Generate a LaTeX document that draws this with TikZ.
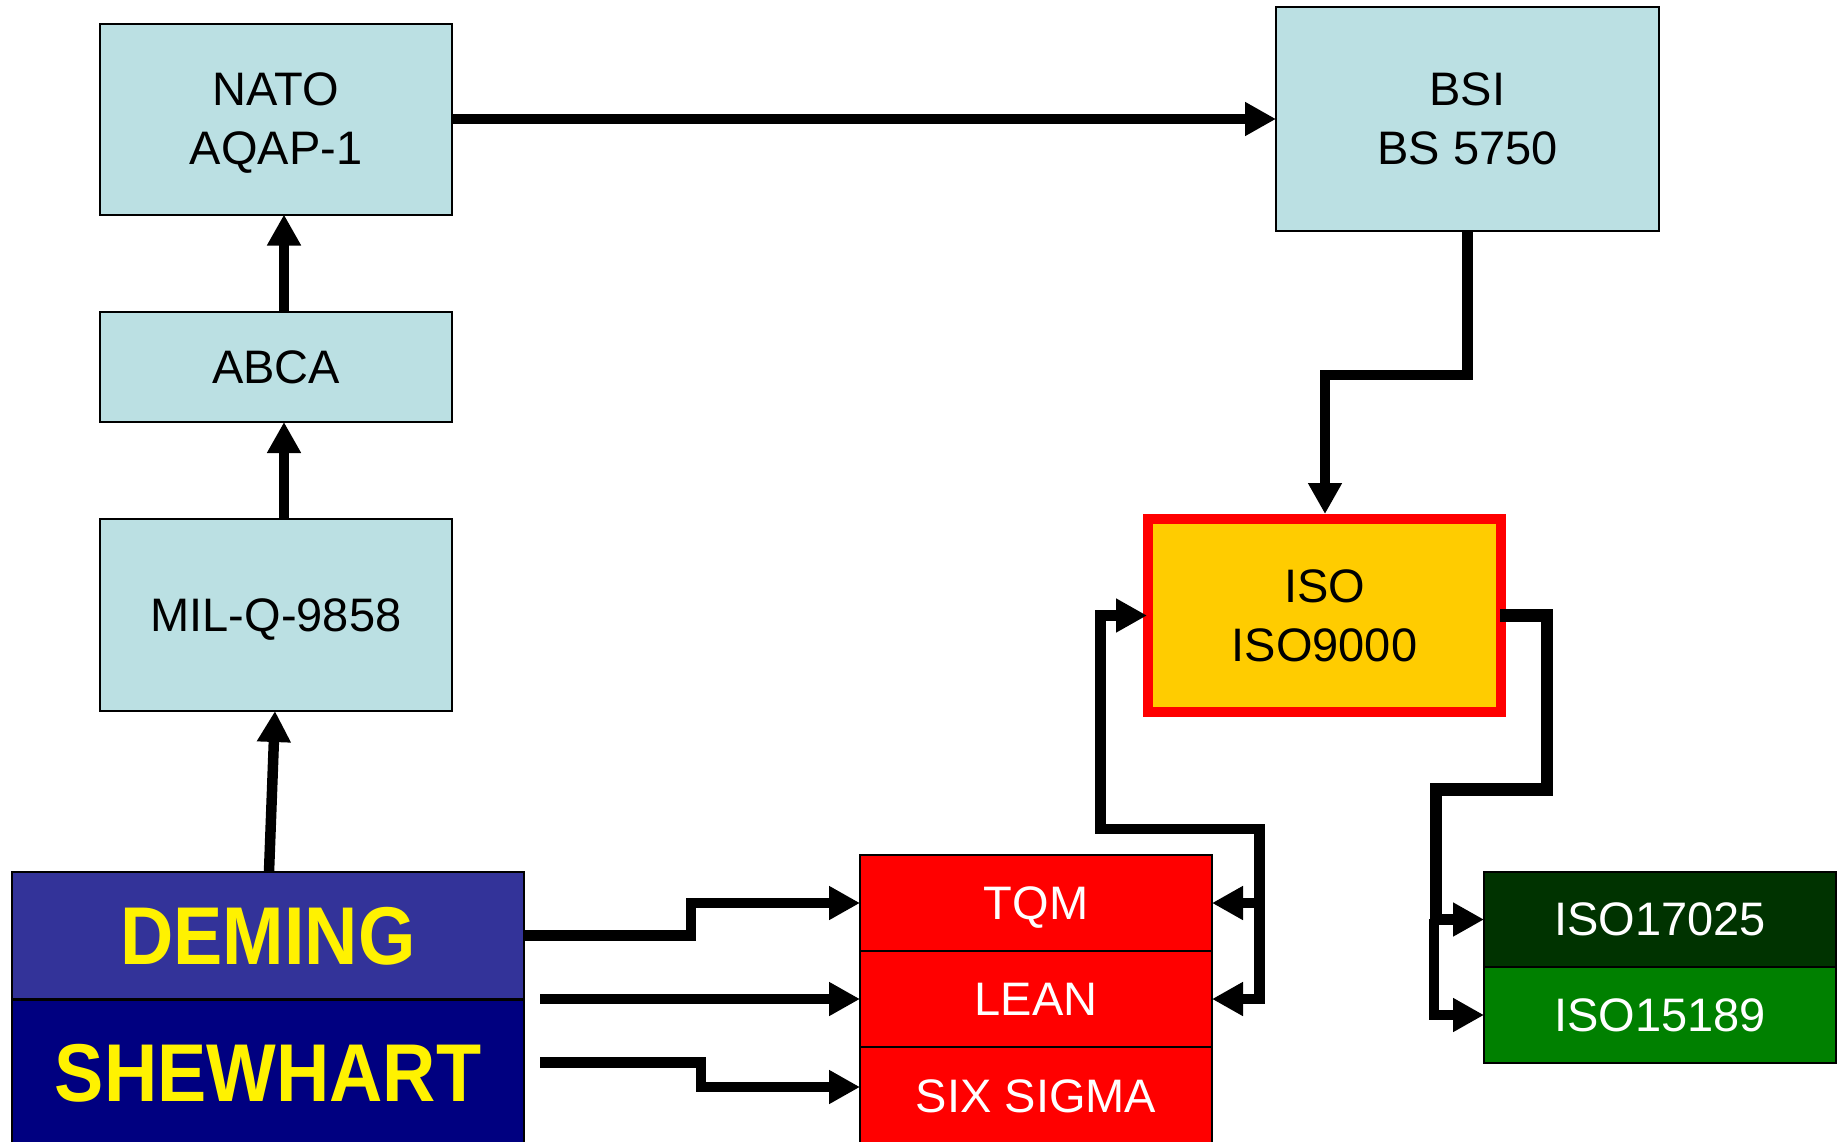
\documentclass[tikz,border=0pt]{standalone}
\usepackage{fontspec}
\setmainfont{Liberation Sans}
\newfontfamily\narrowfont{Liberation Sans}[FakeStretch=0.9]
\usetikzlibrary{arrows.meta}
\definecolor{boxblue}{HTML}{BBE0E3}
\definecolor{demingblue}{HTML}{333399}
\definecolor{navyblue}{HTML}{000080}
\definecolor{isoyellow}{HTML}{FFCC00}
\definecolor{darkgreen}{HTML}{003300}
\definecolor{midgreen}{HTML}{008000}
\tikzset{
  base/.style={draw=black, line width=2pt, inner sep=0pt, outer sep=0pt, align=center, text depth=0pt, font=\fontsize{47}{59}\selectfont},
  bluebox/.style={base, fill=boxblue, text=black, minimum width=352pt},
  bigname/.style={base, text=yellow, minimum width=512pt, font=\narrowfont\bfseries\fontsize{82}{90}\selectfont},
  redbox/.style={base, fill=red, text=white, minimum width=352pt},
  greenbox/.style={base, text=white, minimum width=352pt},
  conn/.style={line width=10.5pt},
  arr/.style={conn, -{Triangle[length=31pt,width=32pt]}},
  biarr/.style={conn, {Triangle[length=31pt,width=32pt]}-{Triangle[length=31pt,width=32pt]}},
}
\begin{document}
\begin{tikzpicture}[x=1pt,y=-1pt]
\useasboundingbox (0,0) rectangle (1845,1141);
% boxes
\node[bluebox, minimum height=191pt] (nato) at (276,119) {NATO\\AQAP-1};
\node[bluebox, minimum width=383pt, minimum height=224pt] (bsi) at (1467.5,119) {BSI\\BS 5750};
\node[bluebox, minimum height=110pt] (abca) at (276,367) {ABCA};
\node[bluebox, minimum height=192pt] (mil) at (276,615) {MIL-Q-9858};
\node[bigname, fill=demingblue, minimum height=127pt] (deming) at (268,935.5) {DEMING};
\node[bigname, fill=navyblue, minimum height=146pt] (shewhart) at (268,1072.5) {SHEWHART};
\node[base, draw=red, line width=10pt, outer sep=5pt, fill=isoyellow, text=black, minimum width=353pt, minimum height=193pt] (iso) at (1324.5,615.5) {ISO\\ISO9000};
\node[redbox, minimum height=96pt] (tqm) at (1036,903) {TQM};
\node[redbox, minimum height=96pt] (lean) at (1036,999) {LEAN};
\node[redbox, minimum height=98pt] (six) at (1036,1096) {SIX SIGMA};
\node[greenbox, fill=darkgreen, minimum height=95pt] (i17025) at (1660,919.5) {ISO17025};
\node[greenbox, fill=midgreen, minimum height=96pt] (i15189) at (1660,1015) {ISO15189};
% connectors
\draw[arr] (nato.east) -- (bsi.west);
\draw[arr] ([xshift=8pt]abca.north) -- ([xshift=8pt]nato.south);
\draw[arr] ([xshift=8pt]mil.north) -- ([xshift=8pt]abca.south);
\draw[arr] ([xshift=1pt]deming.north) -- ([xshift=-1pt]mil.south);
\coordinate (b1) at (1325,375);
\draw[arr] (bsi.south) |- (b1) -- (b1 |- iso.north);
% ISO to ISO17025 / ISO15189
\coordinate (r1) at (1547,789.5);
\coordinate (r2) at (1436,789.5);
\coordinate (r3) at (1434,919);
\draw[conn, line width=12.5pt] ([xshift=-6pt]iso.east) -| (r1) -- (r2) -- (r2 |- i17025.west);
\draw[arr] (r2 |- i17025.west) -- (i17025.west);
\draw[arr] (r3) |- (i15189.west);
% TQM / LEAN to ISO
\coordinate (t1) at (1259.5,829);
\coordinate (t2) at (1100.5,829);
\draw[biarr] (lean.east) -| (t1) -- (t2) |- ([xshift=4pt]iso.west);
\draw[arr] (t1 |- tqm.east) -- (tqm.east);
% DEMING / SHEWHART to TQM, LEAN, SIX SIGMA
\coordinate (d1) at (691,935.5);
\draw[arr] (deming.east) -- (d1) |- (tqm.west);
\coordinate (l0) at (540,999);
\draw[arr] (l0) -- (lean.west);
\coordinate (s0) at (540,1062.5);
\coordinate (s1) at (701,1062.5);
\draw[arr] (s0) -- (s1) |- ([yshift=9pt]six.west);
\end{tikzpicture}
\end{document}
